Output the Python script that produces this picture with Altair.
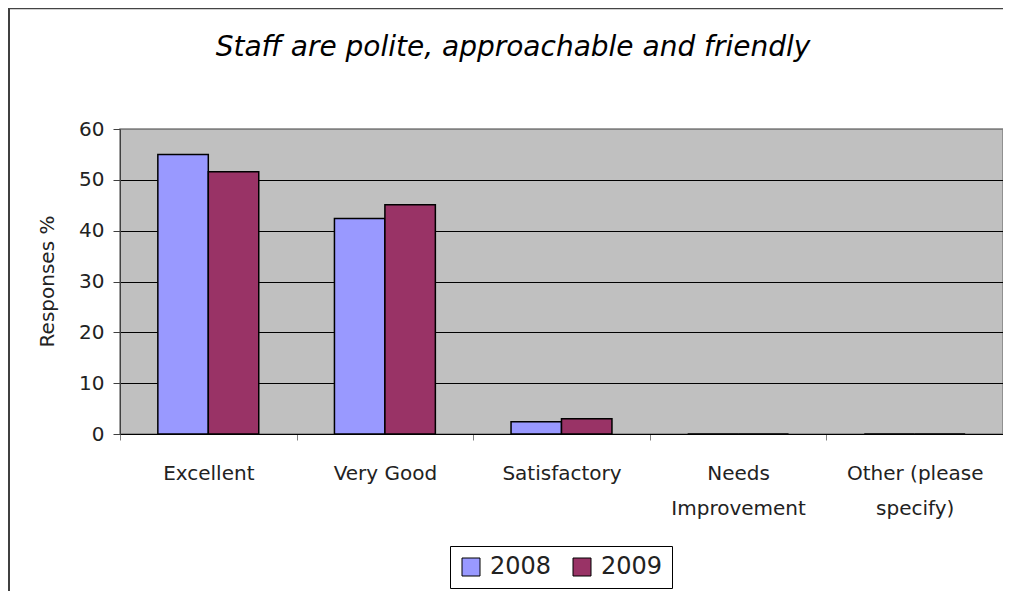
import altair as alt
import pandas as pd

title_text = "Staff are polite, approachable and friendly"
categories = ["Excellent", "Very Good", "Satisfactory", "Needs Improvement", "Other (please specify)"]
label_lines = {
    "Needs Improvement": ["Needs", "Improvement"],
    "Other (please specify)": ["Other (please", "specify)"],
}
years = ["2008", "2009"]
values_2008 = [55.0, 42.4, 2.4, 0.0, 0.0]
values_2009 = [51.6, 45.1, 3.0, 0.0, 0.0]
y_ticks = [0, 10, 20, 30, 40, 50, 60]
colors = ["#9999FF", "#993366"]

rows = []
for c, a, b in zip(categories, values_2008, values_2009):
    rows.append({"category": c, "year": years[0], "value": a})
    rows.append({"category": c, "year": years[1], "value": b})
df = pd.DataFrame(rows)

FONT = "DejaVu Sans"

expr = "datum.label"
for k, v in label_lines.items():
    arr = "[" + ", ".join("'" + s + "'" for s in v) + "]"
    expr = f"datum.label == '{k}' ? {arr} : ({expr})"

bars = alt.Chart(df).mark_bar(stroke="black", strokeWidth=1.5).encode(
    x=alt.X(
        "category:N",
        sort=categories,
        scale=alt.Scale(paddingInner=0, paddingOuter=0),
        axis=alt.Axis(
            title=None,
            labelAngle=0,
            tickBand="extent",
            labelExpr=expr,
            labelFont=FONT,
            labelFontSize=20,
            labelColor="#222222",
            labelPadding=23,
            labelLineHeight=35,
            tickSize=6,
            tickColor="#808080",
            domainColor="black",
            domainWidth=1,
            grid=False,
        ),
    ),
    xOffset=alt.XOffset("year:N", sort=years, scale=alt.Scale(paddingInner=0, paddingOuter=0.75)),
    y=alt.Y(
        "value:Q",
        scale=alt.Scale(domain=[0, 60], nice=False),
        axis=alt.Axis(
            values=y_ticks,
            title="Responses %",
            titleFont=FONT,
            titleFontSize=20,
            titleFontWeight="normal",
            titleColor="#222222",
            titleAngle=-90,
            titleX=-73,
            titleY=152,
            titleAlign="center",
            titleBaseline="middle",
            labelFont=FONT,
            labelFontSize=20,
            labelColor="#222222",
            labelPadding=9,
            tickSize=7,
            tickColor="#404040",
            domainColor="#404040",
            grid=True,
            gridColor=alt.condition("datum.value == 60", alt.value("#808080"), alt.value("black")),
            gridWidth=1,
        ),
    ),
    color=alt.Color(
        "year:N",
        sort=years,
        scale=alt.Scale(domain=years, range=colors),
        legend=alt.Legend(
            title=None,
            orient="none",
            legendX=330,
            legendY=417,
            direction="horizontal",
            strokeColor="black",
            fillColor="white",
            padding=9,
            symbolType="square",
            symbolSize=324,
            symbolStrokeColor="black",
            symbolStrokeWidth=1,
            labelFont=FONT,
            labelFontSize=24,
            labelColor="#222222",
            columnPadding=18,
            labelOffset=7,
        ),
    ),
)

one = pd.DataFrame({"t": [title_text]})

border_left = alt.Chart(one).mark_rule(stroke="black", strokeWidth=1.5).encode(
    x=alt.value(-111), y=alt.value(-121), y2=alt.value(465)
)
border_top = alt.Chart(one).mark_rule(stroke="#444444", strokeWidth=1.5).encode(
    x=alt.value(-111), x2=alt.value(883), y=alt.value(-120.5)
)

title = alt.Chart(one).mark_text(
    font=FONT,
    fontSize=28,
    fontStyle="italic",
    color="black",
    align="center",
    baseline="alphabetic",
).encode(
    text="t:N", x=alt.value(393), y=alt.value(-73)
)

chart = alt.layer(border_left, border_top, bars, title).properties(
    width=883,
    height=305,
    padding={"left": 112, "top": 121, "right": 0, "bottom": 157},
    autosize=alt.AutoSizeParams(type="none"),
    background="white",
).configure_view(
    fill="#C0C0C0",
    stroke="#808080",
    strokeWidth=1.5,
)

chart.save("out.html", embed_options={"renderer": "svg", "actions": False})
